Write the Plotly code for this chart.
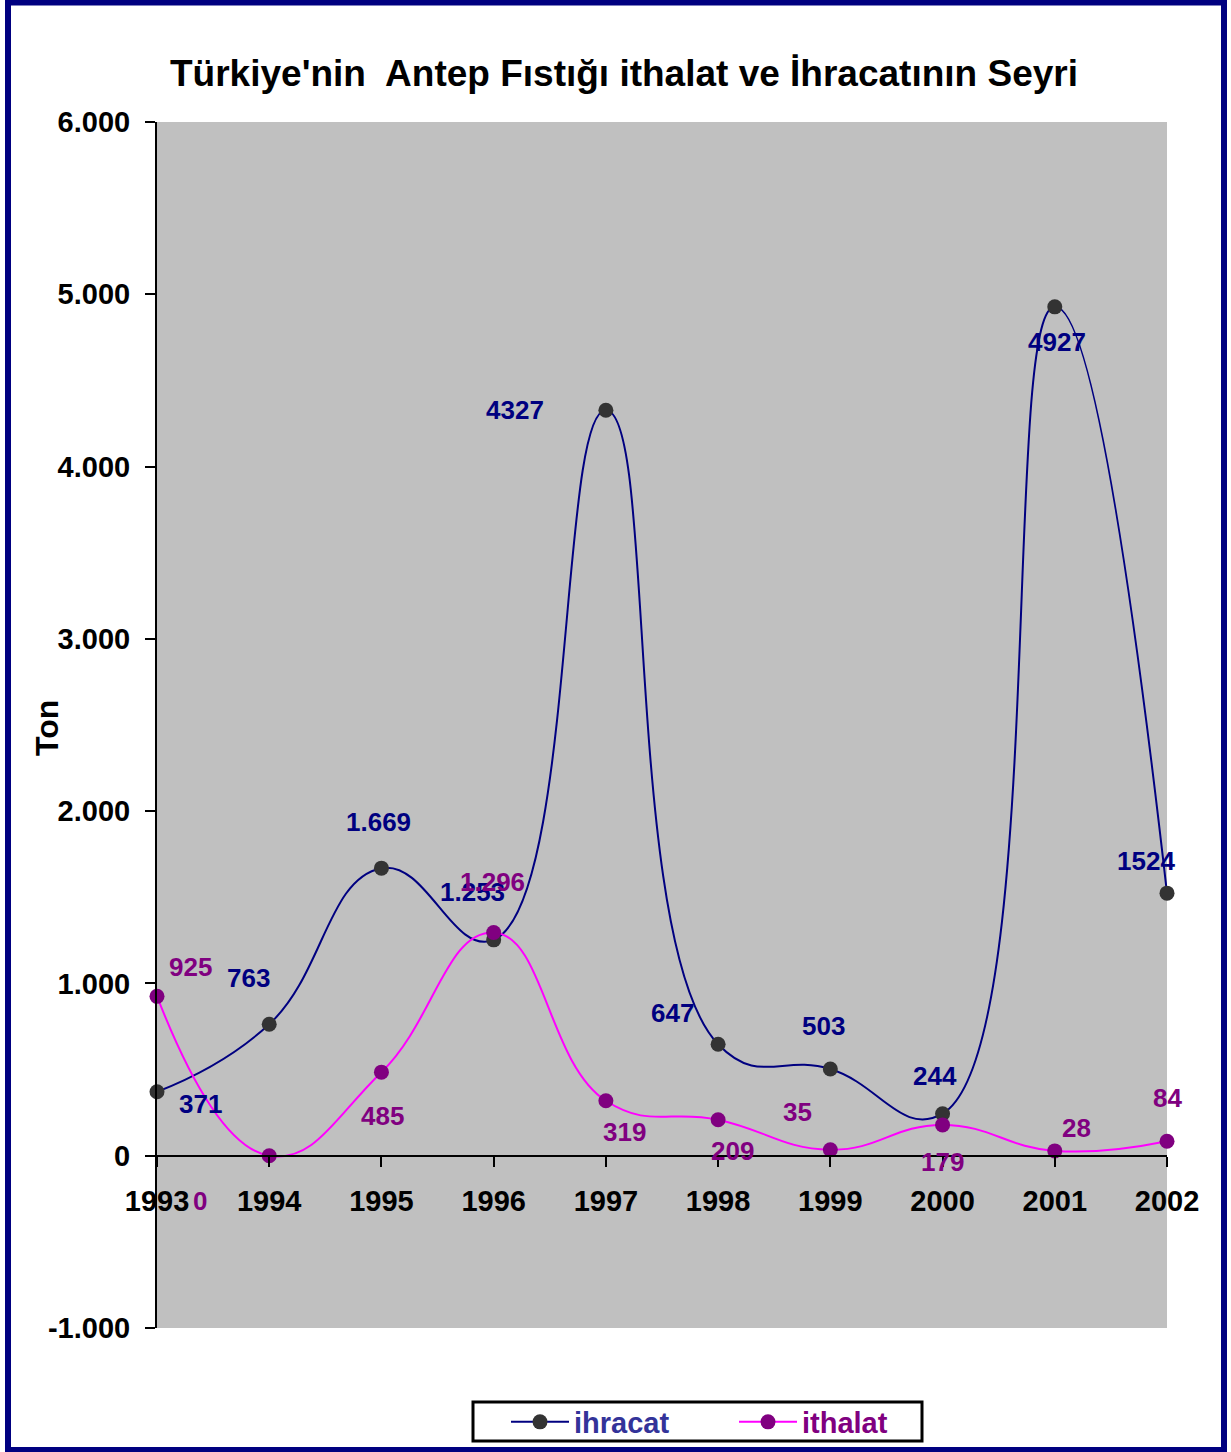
import plotly.graph_objects as go

years = ["1993", "1994", "1995", "1996", "1997", "1998", "1999", "2000", "2001", "2002"]
ihracat = [371, 763, 1669, 1253, 4327, 647, 503, 244, 4927, 1524]
ithalat = [925, 0, 485, 1296, 319, 209, 35, 179, 28, 84]
ihracat_labels = ["371", "763", "1.669", "1.253", "4327", "647", "503", "244", "4927", "1524"]
ithalat_labels = ["925", "0", "485", "1.296", "319", "209", "35", "179", "28", "84"]
y_tickvals = [-1000, 0, 1000, 2000, 3000, 4000, 5000, 6000]
y_ticktext = ["-1.000", "0", "1.000", "2.000", "3.000", "4.000", "5.000", "6.000"]

# label offsets in pixels (styling)
ihr_dx = [43, -21, -3, -21, -91, -46, -7, -8, 2, -21]
ihr_dy = [-12, 46, 46, 48, 0, 31, 43, 38, -35, 32]
ith_dx = [33, -69, 1, -1, 19, 14, -33, 0, 22, 0]
ith_dy = [29, -45, -44, 50, -31, -31, 38, -37, 23, 43]

FONT = "Liberation Sans, Arial, sans-serif"
NAVY = "#000080"
PURPLE = "#800080"

W, H = 1231, 1452
L, R, T, B = 157, 64, 122, 124
pw, ph = W - L - R, H - T - B

def px_x(p):
    return (p - L) / pw

def px_y(p):
    return (H - B - p) / ph

fig = go.Figure()
fig.add_trace(go.Scatter(
    x=years, y=ihracat, mode="lines+markers",
    name="<span style='color:#333399'>ihracat</span>",
    line=dict(color=NAVY, width=2, shape="spline", smoothing=1.3),
    marker=dict(color="#333333", size=15),
    cliponaxis=False,
))
fig.add_trace(go.Scatter(
    x=years, y=ithalat, mode="lines+markers",
    name="<span style='color:#800080'>ithalat</span>",
    line=dict(color="#FF00FF", width=2, shape="spline", smoothing=1.3),
    marker=dict(color=PURPLE, size=15),
    cliponaxis=False,
))

annotations = []
for i, yr in enumerate(years):
    annotations.append(dict(x=i, y=ihracat[i], xref="x", yref="y", text=ihracat_labels[i],
                            showarrow=False, xshift=ihr_dx[i], yshift=ihr_dy[i],
                            font=dict(family=FONT, size=26, color=NAVY, weight="bold")))
    annotations.append(dict(x=i, y=ithalat[i], xref="x", yref="y", text=ithalat_labels[i],
                            showarrow=False, xshift=ith_dx[i], yshift=ith_dy[i],
                            font=dict(family=FONT, size=26, color=PURPLE, weight="bold")))

annotations.append(dict(x=px_x(47), y=px_y(728), xref="paper", yref="paper", text="Ton",
                        textangle=-90, showarrow=False, xanchor="center", yanchor="middle",
                        font=dict(family=FONT, size=32, color="black", weight="bold")))

zero_pos = (0 - y_tickvals[0]) / (y_tickvals[-1] - y_tickvals[0])

fig.update_layout(
    width=W, height=H,
    margin=dict(l=L, r=R, t=T, b=B, autoexpand=False),
    paper_bgcolor="white",
    plot_bgcolor="#C0C0C0",
    title=dict(text="Türkiye'nin  Antep Fıstığı ithalat ve İhracatının Seyri",
               x=px_x(624), xref="paper", xanchor="center",
               y=1 - 73 / H, yref="container", yanchor="middle",
               font=dict(family=FONT, size=37, color="black", weight="bold")),
    xaxis=dict(type="category", range=[0, len(years) - 1], anchor="free", position=zero_pos,
               showline=True, linecolor="black", linewidth=2, showgrid=False, zeroline=False,
               ticks="outside", ticklen=10, tickwidth=2, tickcolor="black",
               ticklabelstandoff=9,
               tickfont=dict(family=FONT, size=29, color="black", weight="bold")),
    xaxis2=dict(type="category", range=[0, len(years) - 1], overlaying="x", anchor="free",
                position=zero_pos, showline=False, showgrid=False, zeroline=False,
                ticks="inside", ticklen=10, tickwidth=2, tickcolor="black",
                showticklabels=False, tickvals=list(range(len(years))),
                tickmode="array"),
    yaxis=dict(range=[y_tickvals[0], y_tickvals[-1]], tickvals=y_tickvals, ticktext=y_ticktext,
               showline=True, linecolor="black", linewidth=2, showgrid=False, zeroline=False,
               ticks="outside", ticklen=10, tickwidth=2, tickcolor="black",
               ticklabelstandoff=9,
               tickfont=dict(family=FONT, size=29, color="black", weight="bold")),
    yaxis2=dict(range=[y_tickvals[0], y_tickvals[-1]], tickvals=y_tickvals, overlaying="y",
                anchor="x", showline=False, showgrid=False, zeroline=False,
                ticks="inside", ticklen=10, tickwidth=2, tickcolor="black",
                showticklabels=False),
    showlegend=True,
    legend=dict(orientation="h", x=px_x(506), xanchor="left", y=px_y(1422), yanchor="middle",
                bgcolor="rgba(0,0,0,0)", borderwidth=0,
                itemwidth=58,
                entrywidth=155, entrywidthmode="pixels",
                font=dict(family=FONT, size=29, color="black", weight="bold")),
    annotations=annotations,
    shapes=[
        dict(type="rect", xref="paper", yref="paper",
             x0=px_x(473), x1=px_x(922), y0=px_y(1441), y1=px_y(1402),
             line=dict(color="black", width=3), fillcolor="white", layer="above"),
        dict(type="rect", xref="paper", yref="paper",
             x0=px_x(8), x1=px_x(1224), y0=px_y(1450), y1=px_y(2.5),
             line=dict(color=NAVY, width=6), fillcolor="rgba(0,0,0,0)", layer="above"),
    ],
)

fig.write_html("out.html", config={"displayModeBar": False},
               post_script="document.body.style.margin='0px';")
